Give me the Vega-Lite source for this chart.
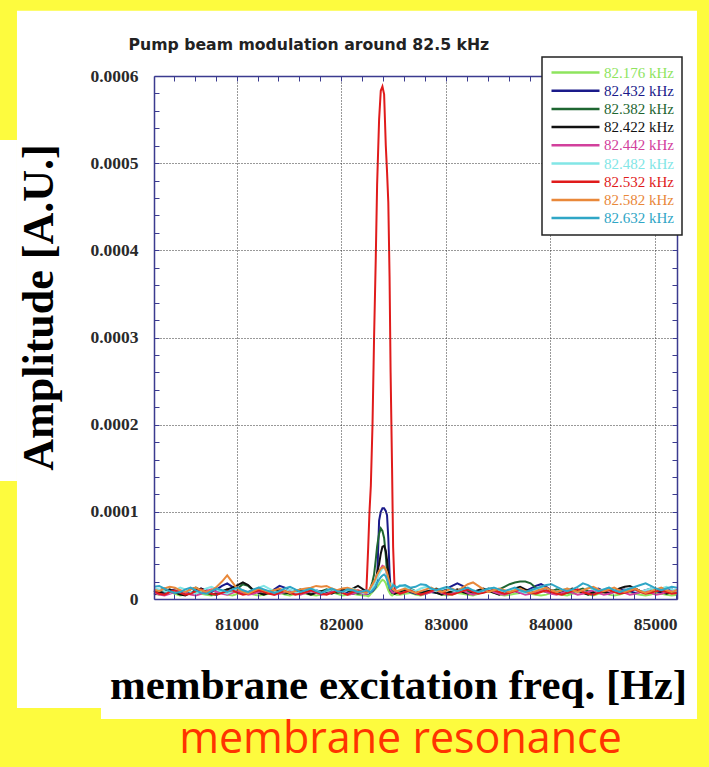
{
"$schema": "https://vega.github.io/schema/vega-lite/v6.json",
"width": 523, "height": 523,
"autosize": "none",
"padding": {"left": 154, "top": 76, "right": 32, "bottom": 168},
"background": "#fdfb3e",
"title": {"text": "membrane resonance", "orient": "bottom", "anchor": "middle", "frame": "group", "dx": -15, "offset": 34, "baseline": "alphabetic", "font": "Open Sans", "fontSize": 43, "fontWeight": "normal", "color": "#ff3300", "zindex": 1},
"config": {
  "view": {"stroke": null},
  "axis": {"domainColor": "#3b3b8f", "domainWidth": 1.5, "tickColor": "#3b3b8f", "tickWidth": 1, "tickSize": -5, "labelColor": "#2a2a2a", "labelFont": "Liberation Serif", "labelFontWeight": "bold", "labelFontSize": 17.5, "labelPadding": 21, "gridColor": "#333333", "gridDash": [1, 2], "gridWidth": 1, "labelOverlap": false, "labelFlush": false}
},
"resolve": {"axis": {"x": "independent", "y": "independent"}},
"layer": [
  {
    "data": {"values": [{}]},
    "mark": {"type": "rect", "color": "white"},
    "encoding": {
      "x": {"datum": 78900, "type": "quantitative", "scale": {"domain": [80210, 85210], "nice": false, "zero": false},
        "axis": {"orient": "top", "zindex": 1, "values": [80400,80600,80800,81000,81200,81400,81600,81800,82000,82200,82400,82600,82800,83000,83200,83400,83600,83800,84000,84200,84400,84600,84800,85000,85200], "labels": false, "grid": false, "title": "Pump beam modulation around 82.5 kHz", "titleFont": "DejaVu Sans", "titleFontSize": 15.7, "titleFontWeight": "bold", "titleColor": "#222222", "titleX": -26, "titleY": -27, "titleAlign": "left", "titleBaseline": "alphabetic", "titleAngle": 0}},
      "x2": {"datum": 85401},
      "y": {"datum": 0.000675, "type": "quantitative", "scale": {"domain": [0, 0.0006], "nice": false, "zero": false},
        "axis": {"orient": "right", "zindex": 1, "values": [0,0.00002,0.00004,0.00006,0.00008,0.0001,0.00012,0.00014,0.00016,0.00018,0.0002,0.00022,0.00024,0.00026,0.00028,0.0003,0.00032,0.00034,0.00036,0.00038,0.0004,0.00042,0.00044,0.00046,0.00048,0.0005,0.00052,0.00054,0.00056,0.00058,0.0006], "labels": false, "grid": false, "title": null}},
      "y2": {"datum": -0.000125}
    }
  },
  {
    "data": {"values": [{}]},
    "mark": {"type": "rect", "color": "white"},
    "encoding": {
      "x": {"datum": 78600, "type": "quantitative", "scale": {"domain": [80210, 85210], "nice": false, "zero": false}, "axis": null},
      "x2": {"datum": 78900},
      "y": {"datum": 0.0005266, "type": "quantitative", "scale": {"domain": [0, 0.0006], "nice": false, "zero": false}, "axis": null},
      "y2": {"datum": 0.0001354}
    }
  },
  {
    "data": {"values": [{}]},
    "mark": {"type": "rect", "color": "white"},
    "encoding": {
      "x": {"datum": 79703, "type": "quantitative", "scale": {"domain": [80210, 85210], "nice": false, "zero": false}, "axis": null},
      "x2": {"datum": 85401},
      "y": {"datum": -0.0000585, "type": "quantitative", "scale": {"domain": [0, 0.0006], "nice": false, "zero": false}, "axis": null},
      "y2": {"datum": -0.0001377}
    }
  },
  {
    "data": {"values": [
{"f":80210,"g":6e-6,"n":10e-6,"d":8e-6,"k":5e-6,"m":7e-6,"c":12e-6,"r":9e-6,"o":11e-6,"t":14e-6},
{"f":80260,"g":5e-6,"n":8e-6,"d":10e-6,"k":7e-6,"m":5e-6,"c":11e-6,"r":6e-6,"o":9e-6,"t":15e-6},
{"f":80310,"g":7e-6,"n":6e-6,"d":12e-6,"k":9e-6,"m":4e-6,"c":9e-6,"r":5e-6,"o":12e-6,"t":12e-6},
{"f":80360,"g":8e-6,"n":9e-6,"d":9e-6,"k":11e-6,"m":6e-6,"c":7e-6,"r":8e-6,"o":14e-6,"t":9e-6},
{"f":80410,"g":6e-6,"n":11e-6,"d":7e-6,"k":8e-6,"m":8e-6,"c":10e-6,"r":10e-6,"o":13e-6,"t":7e-6},
{"f":80460,"g":4e-6,"n":8e-6,"d":6e-6,"k":5e-6,"m":10e-6,"c":13e-6,"r":7e-6,"o":10e-6,"t":8e-6},
{"f":80510,"g":5e-6,"n":6e-6,"d":8e-6,"k":4e-6,"m":7e-6,"c":11e-6,"r":5e-6,"o":8e-6,"t":11e-6},
{"f":80560,"g":7e-6,"n":7e-6,"d":11e-6,"k":7e-6,"m":5e-6,"c":8e-6,"r":6e-6,"o":11e-6,"t":13e-6},
{"f":80610,"g":8e-6,"n":9e-6,"d":13e-6,"k":10e-6,"m":4e-6,"c":6e-6,"r":9e-6,"o":13e-6,"t":10e-6},
{"f":80660,"g":6e-6,"n":12e-6,"d":10e-6,"k":12e-6,"m":6e-6,"c":9e-6,"r":11e-6,"o":10e-6,"t":7e-6},
{"f":80710,"g":5e-6,"n":10e-6,"d":7e-6,"k":9e-6,"m":9e-6,"c":12e-6,"r":8e-6,"o":8e-6,"t":6e-6},
{"f":80760,"g":4e-6,"n":8e-6,"d":5e-6,"k":6e-6,"m":11e-6,"c":14e-6,"r":6e-6,"o":10e-6,"t":9e-6},
{"f":80810,"g":6e-6,"n":11e-6,"d":7e-6,"k":5e-6,"m":8e-6,"c":11e-6,"r":5e-6,"o":14e-6,"t":12e-6},
{"f":80860,"g":7e-6,"n":15e-6,"d":9e-6,"k":8e-6,"m":6e-6,"c":8e-6,"r":7e-6,"o":20e-6,"t":10e-6},
{"f":80910,"g":5e-6,"n":18e-6,"d":11e-6,"k":11e-6,"m":5e-6,"c":6e-6,"r":9e-6,"o":27e-6,"t":8e-6},
{"f":80960,"g":4e-6,"n":14e-6,"d":8e-6,"k":13e-6,"m":7e-6,"c":9e-6,"r":10e-6,"o":19e-6,"t":11e-6},
{"f":81010,"g":6e-6,"n":9e-6,"d":12e-6,"k":16e-6,"m":9e-6,"c":12e-6,"r":7e-6,"o":11e-6,"t":13e-6},
{"f":81060,"g":8e-6,"n":7e-6,"d":17e-6,"k":19e-6,"m":7e-6,"c":10e-6,"r":5e-6,"o":8e-6,"t":10e-6},
{"f":81110,"g":7e-6,"n":8e-6,"d":15e-6,"k":16e-6,"m":5e-6,"c":7e-6,"r":6e-6,"o":6e-6,"t":8e-6},
{"f":81160,"g":5e-6,"n":10e-6,"d":10e-6,"k":10e-6,"m":6e-6,"c":9e-6,"r":8e-6,"o":9e-6,"t":11e-6},
{"f":81210,"g":4e-6,"n":12e-6,"d":7e-6,"k":7e-6,"m":8e-6,"c":13e-6,"r":10e-6,"o":12e-6,"t":13e-6},
{"f":81260,"g":5e-6,"n":9e-6,"d":6e-6,"k":5e-6,"m":10e-6,"c":15e-6,"r":8e-6,"o":10e-6,"t":11e-6},
{"f":81310,"g":6e-6,"n":7e-6,"d":8e-6,"k":7e-6,"m":7e-6,"c":12e-6,"r":6e-6,"o":8e-6,"t":9e-6},
{"f":81360,"g":8e-6,"n":11e-6,"d":10e-6,"k":9e-6,"m":5e-6,"c":9e-6,"r":5e-6,"o":10e-6,"t":7e-6},
{"f":81410,"g":7e-6,"n":15e-6,"d":8e-6,"k":11e-6,"m":6e-6,"c":7e-6,"r":7e-6,"o":12e-6,"t":9e-6},
{"f":81460,"g":5e-6,"n":13e-6,"d":6e-6,"k":8e-6,"m":8e-6,"c":9e-6,"r":9e-6,"o":9e-6,"t":12e-6},
{"f":81510,"g":4e-6,"n":10e-6,"d":7e-6,"k":6e-6,"m":10e-6,"c":11e-6,"r":7e-6,"o":7e-6,"t":14e-6},
{"f":81560,"g":6e-6,"n":8e-6,"d":9e-6,"k":8e-6,"m":7e-6,"c":8e-6,"r":5e-6,"o":9e-6,"t":11e-6},
{"f":81610,"g":7e-6,"n":7e-6,"d":11e-6,"k":10e-6,"m":5e-6,"c":6e-6,"r":6e-6,"o":11e-6,"t":8e-6},
{"f":81660,"g":6e-6,"n":9e-6,"d":8e-6,"k":7e-6,"m":7e-6,"c":9e-6,"r":8e-6,"o":12e-6,"t":10e-6},
{"f":81710,"g":5e-6,"n":11e-6,"d":6e-6,"k":5e-6,"m":9e-6,"c":12e-6,"r":10e-6,"o":13e-6,"t":12e-6},
{"f":81760,"g":4e-6,"n":10e-6,"d":7e-6,"k":7e-6,"m":7e-6,"c":10e-6,"r":8e-6,"o":15e-6,"t":9e-6},
{"f":81810,"g":5e-6,"n":8e-6,"d":9e-6,"k":9e-6,"m":5e-6,"c":7e-6,"r":6e-6,"o":14e-6,"t":7e-6},
{"f":81860,"g":7e-6,"n":6e-6,"d":11e-6,"k":8e-6,"m":6e-6,"c":9e-6,"r":5e-6,"o":15e-6,"t":10e-6},
{"f":81910,"g":8e-6,"n":8e-6,"d":9e-6,"k":6e-6,"m":8e-6,"c":11e-6,"r":7e-6,"o":12e-6,"t":12e-6},
{"f":81960,"g":6e-6,"n":10e-6,"d":7e-6,"k":9e-6,"m":10e-6,"c":9e-6,"r":9e-6,"o":10e-6,"t":9e-6},
{"f":82010,"g":4e-6,"n":9e-6,"d":8e-6,"k":11e-6,"m":7e-6,"c":7e-6,"r":7e-6,"o":12e-6,"t":8e-6},
{"f":82060,"g":5e-6,"n":7e-6,"d":10e-6,"k":9e-6,"m":5e-6,"c":10e-6,"r":5e-6,"o":13e-6,"t":11e-6},
{"f":82110,"g":6e-6,"n":6e-6,"d":8e-6,"k":12e-6,"m":6e-6,"c":12e-6,"r":8e-6,"o":11e-6,"t":10e-6},
{"f":82160,"g":5e-6,"n":8e-6,"d":6e-6,"k":15e-6,"m":8e-6,"c":9e-6,"r":10e-6,"o":9e-6,"t":8e-6},
{"f":82210,"g":4e-6,"n":7e-6,"d":7e-6,"k":11e-6,"m":6e-6,"c":7e-6,"r":8e-6,"o":8e-6,"t":9e-6},
{"f":82240,"g":4e-6,"n":6e-6,"d":7e-6,"k":9e-6,"m":6e-6,"c":8e-6,"r":8e-6,"o":7e-6,"t":10e-6},
{"f":82258,"g":3e-6,"n":6e-6,"d":8e-6,"k":8e-6,"m":7e-6,"c":7e-6,"r":60e-6,"o":9e-6,"t":9e-6},
{"f":82270,"g":4e-6,"n":7e-6,"d":10e-6,"k":9e-6,"m":9e-6,"c":8e-6,"r":100e-6,"o":11e-6,"t":8e-6},
{"f":82283,"g":6e-6,"n":8e-6,"d":14e-6,"k":11e-6,"m":12e-6,"c":10e-6,"r":130e-6,"o":14e-6,"t":8e-6},
{"f":82299,"g":8e-6,"n":9e-6,"d":20e-6,"k":14e-6,"m":15e-6,"c":13e-6,"r":200e-6,"o":17e-6,"t":10e-6},
{"f":82314,"g":10e-6,"n":11e-6,"d":28e-6,"k":18e-6,"m":19e-6,"c":16e-6,"r":300e-6,"o":20e-6,"t":12e-6},
{"f":82330,"g":12e-6,"n":14e-6,"d":45e-6,"k":22e-6,"m":23e-6,"c":20e-6,"r":390e-6,"o":24e-6,"t":15e-6},
{"f":82343,"g":14e-6,"n":20e-6,"d":60e-6,"k":30e-6,"m":27e-6,"c":24e-6,"r":475e-6,"o":28e-6,"t":18e-6},
{"f":82362,"g":17e-6,"n":90e-6,"d":75e-6,"k":40e-6,"m":31e-6,"c":28e-6,"r":550e-6,"o":32e-6,"t":22e-6},
{"f":82378,"g":20e-6,"n":100e-6,"d":81e-6,"k":52e-6,"m":35e-6,"c":32e-6,"r":583e-6,"o":35e-6,"t":25e-6},
{"f":82394,"g":22e-6,"n":104e-6,"d":78e-6,"k":60e-6,"m":38e-6,"c":35e-6,"r":588e-6,"o":36e-6,"t":27e-6},
{"f":82410,"g":21e-6,"n":104e-6,"d":70e-6,"k":61e-6,"m":37e-6,"c":36e-6,"r":579e-6,"o":37e-6,"t":28e-6},
{"f":82426,"g":18e-6,"n":101e-6,"d":50e-6,"k":55e-6,"m":33e-6,"c":33e-6,"r":520e-6,"o":34e-6,"t":26e-6},
{"f":82438,"g":14e-6,"n":96e-6,"d":30e-6,"k":45e-6,"m":27e-6,"c":28e-6,"r":490e-6,"o":30e-6,"t":22e-6},
{"f":82450,"g":10e-6,"n":70e-6,"d":18e-6,"k":30e-6,"m":20e-6,"c":22e-6,"r":455e-6,"o":24e-6,"t":17e-6},
{"f":82462,"g":7e-6,"n":30e-6,"d":12e-6,"k":20e-6,"m":14e-6,"c":18e-6,"r":370e-6,"o":18e-6,"t":13e-6},
{"f":82472,"g":5e-6,"n":12e-6,"d":9e-6,"k":10e-6,"m":10e-6,"c":16e-6,"r":260e-6,"o":14e-6,"t":12e-6},
{"f":82486,"g":4e-6,"n":8e-6,"d":7e-6,"k":8e-6,"m":8e-6,"c":17e-6,"r":150e-6,"o":12e-6,"t":14e-6},
{"f":82496,"g":5e-6,"n":9e-6,"d":8e-6,"k":7e-6,"m":7e-6,"c":18e-6,"r":60e-6,"o":11e-6,"t":16e-6},
{"f":82510,"g":6e-6,"n":8e-6,"d":9e-6,"k":6e-6,"m":8e-6,"c":16e-6,"r":12e-6,"o":10e-6,"t":15e-6},
{"f":82530,"g":5e-6,"n":7e-6,"d":8e-6,"k":7e-6,"m":9e-6,"c":13e-6,"r":8e-6,"o":9e-6,"t":13e-6},
{"f":82560,"g":5e-6,"n":9e-6,"d":8e-6,"k":7e-6,"m":6e-6,"c":16e-6,"r":6e-6,"o":10e-6,"t":15e-6},
{"f":82610,"g":6e-6,"n":11e-6,"d":10e-6,"k":9e-6,"m":8e-6,"c":14e-6,"r":8e-6,"o":12e-6,"t":16e-6},
{"f":82660,"g":7e-6,"n":8e-6,"d":12e-6,"k":11e-6,"m":10e-6,"c":11e-6,"r":10e-6,"o":9e-6,"t":13e-6},
{"f":82710,"g":5e-6,"n":6e-6,"d":9e-6,"k":8e-6,"m":7e-6,"c":9e-6,"r":7e-6,"o":7e-6,"t":14e-6},
{"f":82760,"g":4e-6,"n":7e-6,"d":7e-6,"k":6e-6,"m":5e-6,"c":12e-6,"r":5e-6,"o":9e-6,"t":17e-6},
{"f":82810,"g":6e-6,"n":9e-6,"d":8e-6,"k":8e-6,"m":6e-6,"c":14e-6,"r":7e-6,"o":11e-6,"t":16e-6},
{"f":82860,"g":8e-6,"n":8e-6,"d":10e-6,"k":10e-6,"m":8e-6,"c":11e-6,"r":9e-6,"o":13e-6,"t":12e-6},
{"f":82910,"g":7e-6,"n":7e-6,"d":12e-6,"k":7e-6,"m":10e-6,"c":9e-6,"r":11e-6,"o":10e-6,"t":10e-6},
{"f":82960,"g":5e-6,"n":9e-6,"d":9e-6,"k":5e-6,"m":7e-6,"c":11e-6,"r":8e-6,"o":8e-6,"t":12e-6},
{"f":83010,"g":4e-6,"n":12e-6,"d":7e-6,"k":7e-6,"m":5e-6,"c":13e-6,"r":6e-6,"o":10e-6,"t":14e-6},
{"f":83060,"g":5e-6,"n":15e-6,"d":8e-6,"k":9e-6,"m":6e-6,"c":10e-6,"r":5e-6,"o":12e-6,"t":11e-6},
{"f":83110,"g":7e-6,"n":18e-6,"d":10e-6,"k":11e-6,"m":8e-6,"c":8e-6,"r":7e-6,"o":9e-6,"t":9e-6},
{"f":83160,"g":6e-6,"n":15e-6,"d":12e-6,"k":8e-6,"m":10e-6,"c":10e-6,"r":9e-6,"o":13e-6,"t":11e-6},
{"f":83210,"g":5e-6,"n":11e-6,"d":9e-6,"k":6e-6,"m":7e-6,"c":12e-6,"r":11e-6,"o":17e-6,"t":13e-6},
{"f":83260,"g":4e-6,"n":8e-6,"d":7e-6,"k":8e-6,"m":5e-6,"c":9e-6,"r":8e-6,"o":19e-6,"t":10e-6},
{"f":83310,"g":6e-6,"n":7e-6,"d":8e-6,"k":10e-6,"m":7e-6,"c":7e-6,"r":6e-6,"o":15e-6,"t":8e-6},
{"f":83360,"g":8e-6,"n":9e-6,"d":10e-6,"k":12e-6,"m":9e-6,"c":9e-6,"r":7e-6,"o":11e-6,"t":10e-6},
{"f":83410,"g":9e-6,"n":10e-6,"d":12e-6,"k":9e-6,"m":11e-6,"c":11e-6,"r":9e-6,"o":8e-6,"t":12e-6},
{"f":83460,"g":7e-6,"n":8e-6,"d":9e-6,"k":7e-6,"m":8e-6,"c":13e-6,"r":10e-6,"o":10e-6,"t":13e-6},
{"f":83510,"g":5e-6,"n":6e-6,"d":11e-6,"k":5e-6,"m":6e-6,"c":10e-6,"r":8e-6,"o":12e-6,"t":11e-6},
{"f":83560,"g":4e-6,"n":8e-6,"d":14e-6,"k":8e-6,"m":5e-6,"c":8e-6,"r":6e-6,"o":10e-6,"t":9e-6},
{"f":83610,"g":5e-6,"n":10e-6,"d":17e-6,"k":10e-6,"m":7e-6,"c":10e-6,"r":7e-6,"o":8e-6,"t":11e-6},
{"f":83660,"g":6e-6,"n":9e-6,"d":19e-6,"k":12e-6,"m":9e-6,"c":12e-6,"r":9e-6,"o":10e-6,"t":13e-6},
{"f":83710,"g":7e-6,"n":7e-6,"d":20e-6,"k":14e-6,"m":7e-6,"c":9e-6,"r":11e-6,"o":12e-6,"t":10e-6},
{"f":83760,"g":8e-6,"n":9e-6,"d":20e-6,"k":11e-6,"m":5e-6,"c":7e-6,"r":9e-6,"o":9e-6,"t":8e-6},
{"f":83810,"g":6e-6,"n":12e-6,"d":18e-6,"k":9e-6,"m":6e-6,"c":9e-6,"r":7e-6,"o":7e-6,"t":10e-6},
{"f":83860,"g":5e-6,"n":15e-6,"d":13e-6,"k":7e-6,"m":8e-6,"c":11e-6,"r":6e-6,"o":9e-6,"t":12e-6},
{"f":83910,"g":4e-6,"n":17e-6,"d":10e-6,"k":9e-6,"m":10e-6,"c":13e-6,"r":8e-6,"o":11e-6,"t":14e-6},
{"f":83960,"g":5e-6,"n":14e-6,"d":8e-6,"k":11e-6,"m":8e-6,"c":11e-6,"r":10e-6,"o":13e-6,"t":16e-6},
{"f":84010,"g":7e-6,"n":10e-6,"d":9e-6,"k":8e-6,"m":6e-6,"c":9e-6,"r":8e-6,"o":10e-6,"t":17e-6},
{"f":84060,"g":6e-6,"n":8e-6,"d":11e-6,"k":6e-6,"m":5e-6,"c":8e-6,"r":6e-6,"o":8e-6,"t":14e-6},
{"f":84110,"g":5e-6,"n":7e-6,"d":9e-6,"k":8e-6,"m":7e-6,"c":10e-6,"r":5e-6,"o":10e-6,"t":11e-6},
{"f":84160,"g":4e-6,"n":9e-6,"d":7e-6,"k":10e-6,"m":9e-6,"c":12e-6,"r":7e-6,"o":12e-6,"t":9e-6},
{"f":84210,"g":6e-6,"n":11e-6,"d":8e-6,"k":12e-6,"m":7e-6,"c":10e-6,"r":9e-6,"o":10e-6,"t":11e-6},
{"f":84260,"g":8e-6,"n":9e-6,"d":10e-6,"k":9e-6,"m":5e-6,"c":8e-6,"r":11e-6,"o":8e-6,"t":14e-6},
{"f":84310,"g":7e-6,"n":7e-6,"d":12e-6,"k":7e-6,"m":6e-6,"c":10e-6,"r":8e-6,"o":10e-6,"t":18e-6},
{"f":84360,"g":5e-6,"n":8e-6,"d":9e-6,"k":5e-6,"m":8e-6,"c":13e-6,"r":6e-6,"o":12e-6,"t":16e-6},
{"f":84410,"g":4e-6,"n":10e-6,"d":7e-6,"k":8e-6,"m":10e-6,"c":11e-6,"r":5e-6,"o":14e-6,"t":12e-6},
{"f":84460,"g":6e-6,"n":12e-6,"d":8e-6,"k":10e-6,"m":7e-6,"c":9e-6,"r":7e-6,"o":11e-6,"t":9e-6},
{"f":84510,"g":7e-6,"n":9e-6,"d":10e-6,"k":8e-6,"m":5e-6,"c":11e-6,"r":9e-6,"o":9e-6,"t":11e-6},
{"f":84560,"g":5e-6,"n":7e-6,"d":12e-6,"k":6e-6,"m":6e-6,"c":13e-6,"r":10e-6,"o":11e-6,"t":13e-6},
{"f":84610,"g":4e-6,"n":8e-6,"d":9e-6,"k":9e-6,"m":8e-6,"c":10e-6,"r":8e-6,"o":13e-6,"t":10e-6},
{"f":84660,"g":5e-6,"n":10e-6,"d":7e-6,"k":12e-6,"m":10e-6,"c":8e-6,"r":6e-6,"o":10e-6,"t":8e-6},
{"f":84710,"g":7e-6,"n":11e-6,"d":8e-6,"k":14e-6,"m":7e-6,"c":10e-6,"r":7e-6,"o":8e-6,"t":10e-6},
{"f":84760,"g":8e-6,"n":9e-6,"d":10e-6,"k":15e-6,"m":5e-6,"c":12e-6,"r":9e-6,"o":10e-6,"t":12e-6},
{"f":84810,"g":6e-6,"n":7e-6,"d":12e-6,"k":12e-6,"m":6e-6,"c":10e-6,"r":11e-6,"o":12e-6,"t":14e-6},
{"f":84860,"g":5e-6,"n":8e-6,"d":9e-6,"k":9e-6,"m":8e-6,"c":8e-6,"r":8e-6,"o":9e-6,"t":16e-6},
{"f":84910,"g":4e-6,"n":10e-6,"d":7e-6,"k":7e-6,"m":10e-6,"c":10e-6,"r":6e-6,"o":7e-6,"t":18e-6},
{"f":84960,"g":5e-6,"n":12e-6,"d":8e-6,"k":9e-6,"m":7e-6,"c":12e-6,"r":7e-6,"o":9e-6,"t":15e-6},
{"f":85010,"g":7e-6,"n":9e-6,"d":10e-6,"k":11e-6,"m":5e-6,"c":10e-6,"r":9e-6,"o":11e-6,"t":12e-6},
{"f":85060,"g":6e-6,"n":7e-6,"d":12e-6,"k":8e-6,"m":6e-6,"c":12e-6,"r":10e-6,"o":13e-6,"t":10e-6},
{"f":85110,"g":5e-6,"n":9e-6,"d":9e-6,"k":6e-6,"m":8e-6,"c":14e-6,"r":8e-6,"o":10e-6,"t":12e-6},
{"f":85160,"g":4e-6,"n":11e-6,"d":7e-6,"k":8e-6,"m":10e-6,"c":11e-6,"r":6e-6,"o":8e-6,"t":14e-6},
{"f":85210,"g":5e-6,"n":8e-6,"d":8e-6,"k":10e-6,"m":7e-6,"c":9e-6,"r":7e-6,"o":10e-6,"t":13e-6}
    ]},
    "transform": [{"fold": ["g","n","d","k","m","c","r","o","t"], "as": ["s", "amp"]}],
    "mark": {"type": "line", "strokeWidth": 2},
    "encoding": {
      "x": {"field": "f", "type": "quantitative", "scale": {"domain": [80210, 85210], "nice": false, "zero": false},
        "axis": {"orient": "bottom", "zindex": 1, "values": [80400,80600,80800,81000,81200,81400,81600,81800,82000,82200,82400,82600,82800,83000,83200,83400,83600,83800,84000,84200,84400,84600,84800,85000,85200],
          "labelExpr": "datum.value % 1000 === 0 ? format(datum.value, 'd') : ''",
          "grid": true, "gridOpacity": {"condition": {"test": "datum.value % 1000 === 0", "value": 1}, "value": 0},
          "title": "membrane excitation freq. [Hz]", "titleFont": "Liberation Serif", "titleFontSize": 43, "titleFontWeight": "bold", "titleColor": "black", "titleX": 244, "titleY": 99, "titleAlign": "center", "titleBaseline": "alphabetic"}},
      "y": {"field": "amp", "type": "quantitative", "scale": {"domain": [0, 0.0006], "nice": false, "zero": false},
        "axis": {"orient": "left", "zindex": 1, "values": [0,0.00002,0.00004,0.00006,0.00008,0.0001,0.00012,0.00014,0.00016,0.00018,0.0002,0.00022,0.00024,0.00026,0.00028,0.0003,0.00032,0.00034,0.00036,0.00038,0.0004,0.00042,0.00044,0.00046,0.00048,0.0005,0.00052,0.00054,0.00056,0.00058,0.0006],
          "labelExpr": "datum.value === 0 ? '0' : (round(datum.value * 100000) % 10 === 0 ? format(datum.value, '.4f') : '')",
          "grid": true, "gridOpacity": {"condition": {"test": "round(datum.value * 100000) % 10 === 0 && datum.value > 0 && datum.value < 0.00059", "value": 1}, "value": 0},
          "title": "Amplitude [A.U.]", "titleFont": "Liberation Serif", "titleFontSize": 44, "titleFontWeight": "bold", "titleColor": "black", "titleX": -102, "titleY": 231, "titleAngle": 270, "titleAlign": "center", "titleBaseline": "alphabetic"}},
      "color": {"field": "s", "type": "nominal",
        "scale": {"domain": ["g","n","d","k","m","c","r","o","t"], "range": ["#8ee45e","#1a1a8a","#1e6631","#111111","#d2409c","#82e6e6","#e01b1b","#e9883a","#2fa6c6"]},
        "legend": {"orient": "none", "legendX": 388, "legendY": -19, "title": null, "zindex": 1,
          "symbolType": "M-1,0H7", "symbolSize": 144, "symbolStrokeWidth": 2.5, "symbolFillColor": "transparent",
          "labelOffset": 39, "labelFont": "Liberation Serif", "labelFontSize": 15, "labelFontWeight": "normal", "rowPadding": 2.2,
          "padding": 8, "fillColor": "white", "strokeColor": "#222222",
          "labelExpr": "datum.label === 'g' ? '82.176 kHz' : datum.label === 'n' ? '82.432 kHz' : datum.label === 'd' ? '82.382 kHz' : datum.label === 'k' ? '82.422 kHz' : datum.label === 'm' ? '82.442 kHz' : datum.label === 'c' ? '82.482 kHz' : datum.label === 'r' ? '82.532 kHz' : datum.label === 'o' ? '82.582 kHz' : '82.632 kHz'",
          "encode": {"labels": {"update": {"fill": {"scale": "color", "field": "value"}}}, "legend": {"update": {"strokeWidth": {"value": 1.5}}}}}
      }
    }
  }
]
}
